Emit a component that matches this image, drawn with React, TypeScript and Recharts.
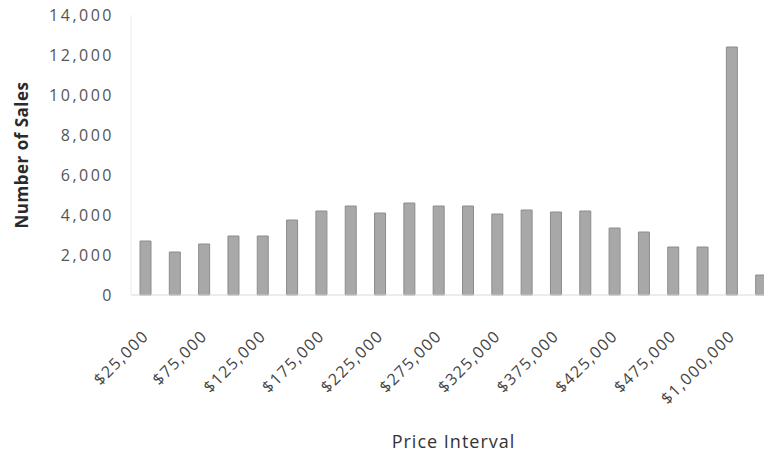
import { BarChart, Bar, XAxis, YAxis } from "recharts";

const priceIntervals = [
  "$25,000", "$50,000", "$75,000", "$100,000", "$125,000", "$150,000",
  "$175,000", "$200,000", "$225,000", "$250,000", "$275,000", "$300,000",
  "$325,000", "$350,000", "$375,000", "$400,000", "$425,000", "$450,000",
  "$475,000", "$500,000", "$1,000,000", "More",
];

const salesCounts = [
  2700, 2150, 2550, 2950, 2950, 3750, 4200, 4450, 4100, 4600, 4450, 4450,
  4050, 4250, 4150, 4200, 3350, 3150, 2400, 2400, 12400, 1000,
];

const yTicks = [0, 2000, 4000, 6000, 8000, 10000, 12000, 14000];

const data = priceIntervals.map((interval, i) => ({
  interval,
  sales: salesCounts[i],
}));

const FONT = "'Open Sans', 'DejaVu Sans', sans-serif";

const formatNumber = (v: number) => v.toLocaleString("en-US");

// rotated category label, end of text sits just right of the bar
const IntervalTick = ({ x, y, payload }: any) => (
  <g transform={`translate(${x + 4},${y + 34})`}>
    <text
      x={0}
      y={0}
      textAnchor="end"
      transform="rotate(-45)"
      fill="#444"
      fontSize={16}
      fontFamily={FONT}
      letterSpacing={1.5}
    >
      {payload.value}
    </text>
  </g>
);

export default function App() {
  return (
    <div
      style={{
        position: "relative",
        width: 764,
        height: 455,
        overflow: "hidden",
        background: "#fff",
      }}
    >
      <style>{`html, body { margin: 0; overflow: hidden; }`}</style>
      <BarChart
        width={778}
        height={455}
        data={data}
        margin={{ top: 15, right: 2, left: 61, bottom: 30 }}
      >
        <XAxis
          dataKey="interval"
          interval={1}
          height={130}
          tickLine={false}
          axisLine={{ stroke: "#d9d9d9" }}
          tick={<IntervalTick />}
          label={{
            value: "Price Interval",
            position: "bottom",
            offset: 10,
            fill: "#333",
            fontSize: 18,
            fontFamily: FONT,
            letterSpacing: 1,
          }}
        />
        <YAxis
          width={70}
          domain={[0, 14000]}
          ticks={yTicks}
          tickFormatter={formatNumber}
          tickLine={false}
          tickMargin={11}
          axisLine={{ stroke: "#ececec" }}
          tick={{
            fill: "#555",
            fontSize: 16,
            fontFamily: FONT,
            letterSpacing: 2.5,
          }}
        />
        <Bar
          dataKey="sales"
          barSize={11}
          fill="#a8a8a8"
          stroke="#8c8c8c"
          strokeWidth={1}
          isAnimationActive={false}
        />
      </BarChart>
      <div
        style={{
          position: "absolute",
          left: 22 - 100,
          top: 155 - 12,
          width: 200,
          height: 24,
          lineHeight: "24px",
          textAlign: "center",
          transform: "rotate(-90deg)",
          fontFamily: FONT,
          fontWeight: 700,
          fontSize: 17,
          letterSpacing: 0.5,
          color: "#2a2a2a",
        }}
      >
        Number of Sales
      </div>
    </div>
  );
}
